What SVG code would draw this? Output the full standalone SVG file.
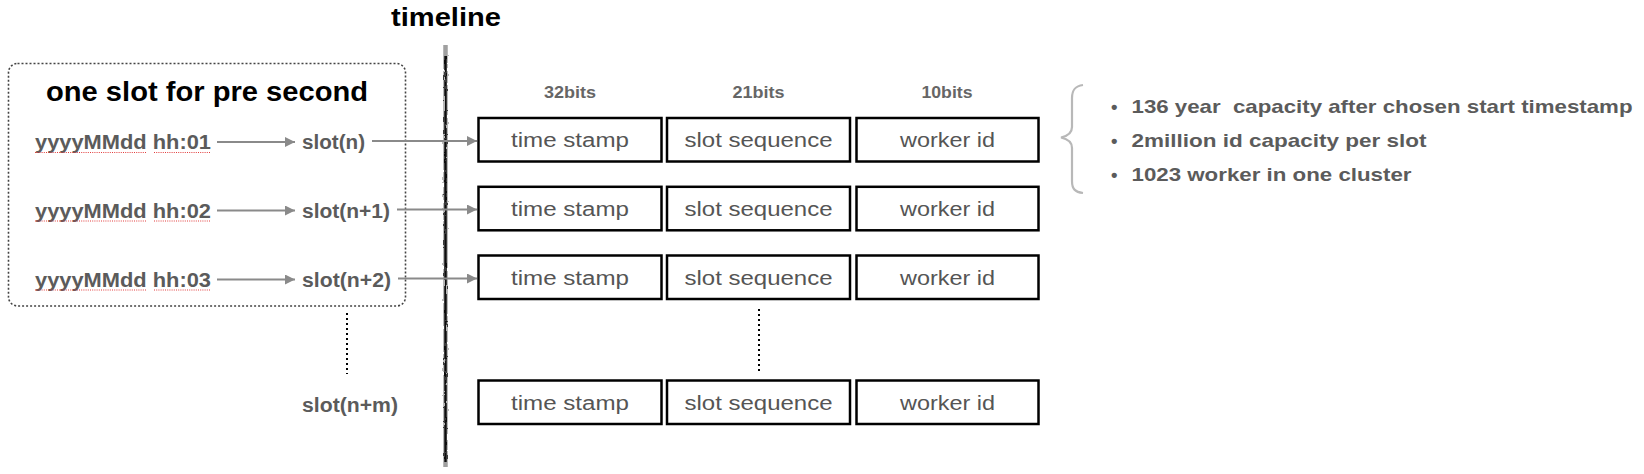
<svg xmlns="http://www.w3.org/2000/svg" width="1644" height="474" viewBox="0 0 1644 474">
<style>
.t{font-family:"Liberation Sans",Arial,sans-serif}
.b{font-weight:bold}
.date{font-size:20px;font-weight:bold;fill:#5b5b5b}
.slot{font-size:20px;font-weight:bold;fill:#5b5b5b}
.hdr{font-size:16px;font-weight:bold;fill:#666;text-anchor:middle}
.cell{font-size:20px;fill:#555;text-anchor:middle}
.bul{font-size:18.5px;font-weight:bold;fill:#5b5b5b;white-space:pre}
.box{fill:#fff;stroke:#000;stroke-width:2.5}
.arr{stroke:#8a8a8a;stroke-width:2;fill:none}
.sq{stroke:#e23c3c;stroke-width:1.2;stroke-dasharray:1 1.2}
.dot{stroke:#000;stroke-width:2;stroke-dasharray:2 3;fill:none}
</style>
<defs>
<marker id="ah" viewBox="0 0 10 10" refX="10" refY="5" markerWidth="5" markerHeight="5" orient="auto" markerUnits="strokeWidth">
<path d="M0,0 L10,5 L0,10 z" fill="#8a8a8a"/>
</marker>
<filter id="rough" filterUnits="userSpaceOnUse" x="430" y="35" width="32" height="440">
<feTurbulence type="fractalNoise" baseFrequency="0.9 0.15" numOctaves="2" seed="3" result="n"/>
<feDisplacementMap in="SourceGraphic" in2="n" scale="2.5" xChannelSelector="R" yChannelSelector="G"/>
</filter>
</defs>
<rect width="1644" height="474" fill="#fff"/>

<text class="t b" x="391" y="26" font-size="26" textLength="110" lengthAdjust="spacingAndGlyphs">timeline</text>

<g id="timeline-axis" filter="url(#rough)">
<line x1="445.5" y1="45" x2="445.5" y2="467" stroke="#a0a0a0" stroke-width="4.5"/>
<line x1="445.5" y1="56" x2="445.5" y2="462" stroke="#111" stroke-width="2.4"/>
</g>

<g id="slot-group">
<rect x="8.5" y="63.5" width="397" height="242.5" rx="9" fill="none" stroke="#444" stroke-width="1.6" stroke-dasharray="2 2"/>
<text class="t b" x="46" y="101" font-size="27" textLength="322" lengthAdjust="spacingAndGlyphs">one slot for pre second</text>
</g>

<g id="date1">
<text class="t date" x="35" y="149.3" textLength="176" lengthAdjust="spacingAndGlyphs">yyyyMMdd hh:01</text>
<line class="sq" x1="35" y1="152.5" x2="147" y2="152.5"/><line class="sq" x1="154" y1="152.5" x2="211" y2="152.5"/>
</g>
<g id="date2">
<text class="t date" x="35" y="218" textLength="176" lengthAdjust="spacingAndGlyphs">yyyyMMdd hh:02</text>
<line class="sq" x1="35" y1="221" x2="147" y2="221"/><line class="sq" x1="154" y1="221" x2="211" y2="221"/>
</g>
<g id="date3">
<text class="t date" x="35" y="287" textLength="176" lengthAdjust="spacingAndGlyphs">yyyyMMdd hh:03</text>
<line class="sq" x1="35" y1="290" x2="147" y2="290"/><line class="sq" x1="154" y1="290" x2="211" y2="290"/>
</g>

<g id="slot-n"><text class="t slot" x="302" y="149.3" textLength="63" lengthAdjust="spacingAndGlyphs">slot(n)</text></g>
<g id="slot-n1"><text class="t slot" x="302" y="218" textLength="88" lengthAdjust="spacingAndGlyphs">slot(n+1)</text></g>
<g id="slot-n2"><text class="t slot" x="302" y="287" textLength="89" lengthAdjust="spacingAndGlyphs">slot(n+2)</text></g>
<g id="slot-nm"><text class="t slot" x="302" y="412" textLength="96" lengthAdjust="spacingAndGlyphs">slot(n+m)</text></g>

<g id="headers">
<text class="t hdr" x="570" y="98" textLength="52" lengthAdjust="spacingAndGlyphs">32bits</text>
<text class="t hdr" x="758.5" y="98" textLength="52" lengthAdjust="spacingAndGlyphs">21bits</text>
<text class="t hdr" x="947" y="98" textLength="51" lengthAdjust="spacingAndGlyphs">10bits</text>
</g>

<g id="id-row1">
<rect class="box" x="478.5" y="118" width="183" height="43.5"/>
<rect class="box" x="667" y="118" width="183" height="43.5"/>
<rect class="box" x="856.5" y="118" width="182" height="43.5"/>
<text class="t cell" x="570" y="147.3" textLength="118" lengthAdjust="spacingAndGlyphs">time stamp</text>
<text class="t cell" x="758.5" y="147.3" textLength="148" lengthAdjust="spacingAndGlyphs">slot sequence</text>
<text class="t cell" x="947.5" y="147.3" textLength="95" lengthAdjust="spacingAndGlyphs">worker id</text>
</g>
<g id="id-row2">
<rect class="box" x="478.5" y="186.8" width="183" height="43.5"/>
<rect class="box" x="667" y="186.8" width="183" height="43.5"/>
<rect class="box" x="856.5" y="186.8" width="182" height="43.5"/>
<text class="t cell" x="570" y="216" textLength="118" lengthAdjust="spacingAndGlyphs">time stamp</text>
<text class="t cell" x="758.5" y="216" textLength="148" lengthAdjust="spacingAndGlyphs">slot sequence</text>
<text class="t cell" x="947.5" y="216" textLength="95" lengthAdjust="spacingAndGlyphs">worker id</text>
</g>
<g id="id-row3">
<rect class="box" x="478.5" y="255.5" width="183" height="43.5"/>
<rect class="box" x="667" y="255.5" width="183" height="43.5"/>
<rect class="box" x="856.5" y="255.5" width="182" height="43.5"/>
<text class="t cell" x="570" y="284.8" textLength="118" lengthAdjust="spacingAndGlyphs">time stamp</text>
<text class="t cell" x="758.5" y="284.8" textLength="148" lengthAdjust="spacingAndGlyphs">slot sequence</text>
<text class="t cell" x="947.5" y="284.8" textLength="95" lengthAdjust="spacingAndGlyphs">worker id</text>
</g>
<g id="id-row4">
<rect class="box" x="478.5" y="380.5" width="183" height="43.5"/>
<rect class="box" x="667" y="380.5" width="183" height="43.5"/>
<rect class="box" x="856.5" y="380.5" width="182" height="43.5"/>
<text class="t cell" x="570" y="409.8" textLength="118" lengthAdjust="spacingAndGlyphs">time stamp</text>
<text class="t cell" x="758.5" y="409.8" textLength="148" lengthAdjust="spacingAndGlyphs">slot sequence</text>
<text class="t cell" x="947.5" y="409.8" textLength="95" lengthAdjust="spacingAndGlyphs">worker id</text>
</g>

<g id="properties">
<path d="M1083,85 C1075,86 1072,90 1072,98 L1072,127 C1072,133 1068,136 1061,137.5 C1068,139 1072,142 1072,148 L1072,181 C1072,189 1075,192 1083,193" fill="none" stroke="#b8b8b8" stroke-width="2.2"/>
<text class="t bul" x="1111" y="112.5">•</text>
<text class="t bul" x="1131.5" y="112.5" textLength="501" lengthAdjust="spacingAndGlyphs">136 year  capacity after chosen start timestamp</text>
<text class="t bul" x="1111" y="147">•</text>
<text class="t bul" x="1131.5" y="147" textLength="295" lengthAdjust="spacingAndGlyphs">2million id capacity per slot</text>
<text class="t bul" x="1111" y="181">•</text>
<text class="t bul" x="1131.5" y="181" textLength="280" lengthAdjust="spacingAndGlyphs">1023 worker in one cluster</text>
</g>

<g id="connectors">
<line class="arr" x1="217" y1="142" x2="295" y2="142" marker-end="url(#ah)"/>
<line class="arr" x1="217" y1="210.5" x2="295" y2="210.5" marker-end="url(#ah)"/>
<line class="arr" x1="217" y1="279.5" x2="295" y2="279.5" marker-end="url(#ah)"/>
<line class="arr" x1="372" y1="141" x2="477" y2="141" marker-end="url(#ah)"/>
<line class="arr" x1="397" y1="209.5" x2="477" y2="209.5" marker-end="url(#ah)"/>
<line class="arr" x1="398" y1="278.5" x2="477" y2="278.5" marker-end="url(#ah)"/>
<line class="dot" x1="347" y1="313" x2="347" y2="374"/>
<line class="dot" x1="759" y1="309" x2="759" y2="373"/>
</g>
</svg>
